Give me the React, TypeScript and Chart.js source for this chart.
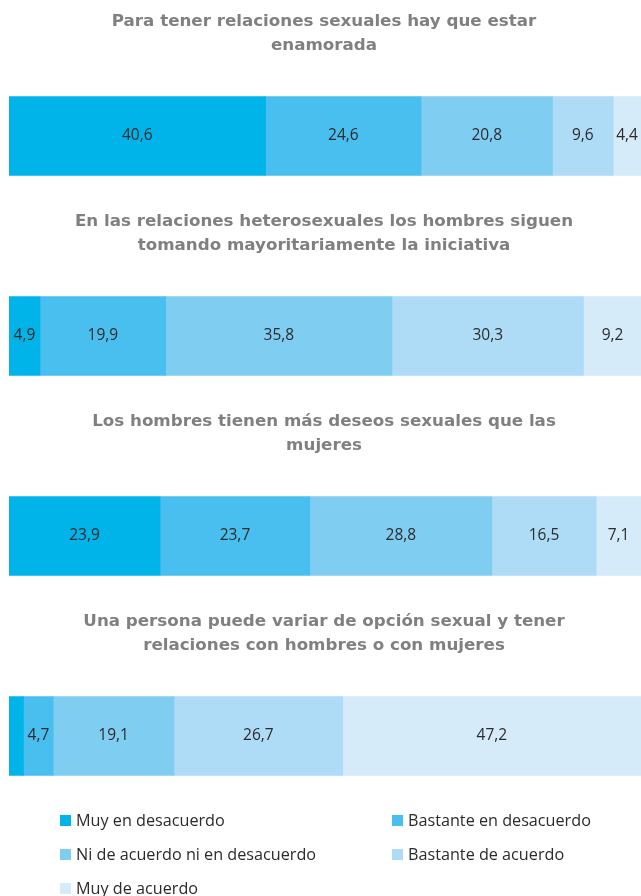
import React, { useEffect, useRef } from "react";
import { Chart, registerables } from "chart.js";
Chart.register(...registerables);

const questionLines: string[][] = [
  ["Para tener relaciones sexuales hay que estar", "enamorada"],
  ["En las relaciones heterosexuales los hombres siguen", "tomando mayoritariamente la iniciativa"],
  ["Los hombres tienen más deseos sexuales que las", "mujeres"],
  ["Una persona puede variar de opción sexual y tener", "relaciones con hombres o con mujeres"],
];
const categories = questionLines.map((l) => l.join(" "));

const seriesNames = [
  "Muy en desacuerdo",
  "Bastante en desacuerdo",
  "Ni de acuerdo ni en desacuerdo",
  "Bastante de acuerdo",
  "Muy de acuerdo",
];
const muyDesacuerdo = [40.6, 4.9, 23.9, 2.3];
const bastanteDesacuerdo = [24.6, 19.9, 23.7, 4.7];
const niAcuerdoNiDesacuerdo = [20.8, 35.8, 28.8, 19.1];
const bastanteAcuerdo = [9.6, 30.3, 16.5, 26.7];
const muyAcuerdo = [4.4, 9.2, 7.1, 47.2];
const seriesValues = [muyDesacuerdo, bastanteDesacuerdo, niAcuerdoNiDesacuerdo, bastanteAcuerdo, muyAcuerdo];
const colors = ["#00B4EA", "#48BFEE", "#80CDF2", "#AEDBF6", "#D6EBFA"];

const titlePlugin = {
  id: "questionTitles",
  afterDraw(chart: any) {
    const ctx = chart.ctx;
    const yScale = chart.scales.y;
    const area = chart.chartArea;
    const cx = (area.left + area.right) / 2 - 1;
    ctx.save();
    ctx.fillStyle = "#808080";
    ctx.font = "bold 16.7px 'DejaVu Sans'";
    ctx.textAlign = "center";
    ctx.textBaseline = "middle";
    questionLines.forEach((lines, i) => {
      const center = yScale.getPixelForValue(i);
      const top = center - 39.5;
      ctx.fillText(lines[0], cx, top - 75);
      ctx.fillText(lines[1], cx, top - 51);
    });
    ctx.restore();
  },
};

const valueLabelPlugin = {
  id: "valueLabels",
  afterDatasetsDraw(chart: any) {
    const ctx = chart.ctx;
    ctx.save();
    ctx.fillStyle = "#2B2B2B";
    ctx.font = "15.5px 'Open Sans'";
    ctx.textAlign = "center";
    ctx.textBaseline = "middle";
    chart.data.datasets.forEach((ds: any, di: number) => {
      const meta = chart.getDatasetMeta(di);
      meta.data.forEach((el: any, i: number) => {
        const v = ds.data[i];
        if (v < 3) return;
        const x = (el.x + el.base) / 2;
        ctx.fillText(String(v).replace(".", ","), x, el.y);
      });
    });
    ctx.restore();
  },
};

export default function App() {
  const ref = useRef<HTMLCanvasElement | null>(null);
  useEffect(() => {
    if (!ref.current) return;
    const chart = new Chart(ref.current, {
      type: "bar",
      data: {
        labels: categories,
        datasets: seriesNames.map((name, i) => ({
          label: name,
          data: seriesValues[i],
          backgroundColor: colors[i],
          borderWidth: 0,
          barThickness: 79,
        })),
      },
      options: {
        indexAxis: "y",
        responsive: false,
        animation: false,
        events: [],
        layout: { padding: { top: 36, bottom: 60, left: 9, right: 0 } },
        scales: {
          x: { stacked: true, min: 0, max: 100, display: false },
          y: { stacked: true, display: false },
        },
        plugins: {
          legend: { display: false },
          tooltip: { enabled: false },
          title: { display: false },
        },
      },
      plugins: [titlePlugin, valueLabelPlugin],
    });
    return () => chart.destroy();
  }, []);

  const legendPos = [
    { left: 60, top: 815 },
    { left: 392, top: 815 },
    { left: 60, top: 849 },
    { left: 392, top: 849 },
    { left: 60, top: 883 },
  ];

  return (
    <div style={{ position: "absolute", left: 0, top: 0, width: 641, height: 896, overflow: "hidden", background: "#fff" }}>
      <canvas ref={ref} width={641} height={896} style={{ display: "block" }} />
      {seriesNames.map((name, i) => (
        <div
          key={name}
          style={{
            position: "absolute",
            left: legendPos[i].left,
            top: legendPos[i].top,
            display: "flex",
            alignItems: "center",
            fontFamily: "'Open Sans', sans-serif",
            fontSize: 16.2,
            color: "#2B2B2B",
            whiteSpace: "nowrap",
            lineHeight: "11px",
            height: 11,
          }}
        >
          <span style={{ display: "inline-block", width: 11, height: 11, background: colors[i], marginRight: 5 }} />
          <span>{name}</span>
        </div>
      ))}
    </div>
  );
}
